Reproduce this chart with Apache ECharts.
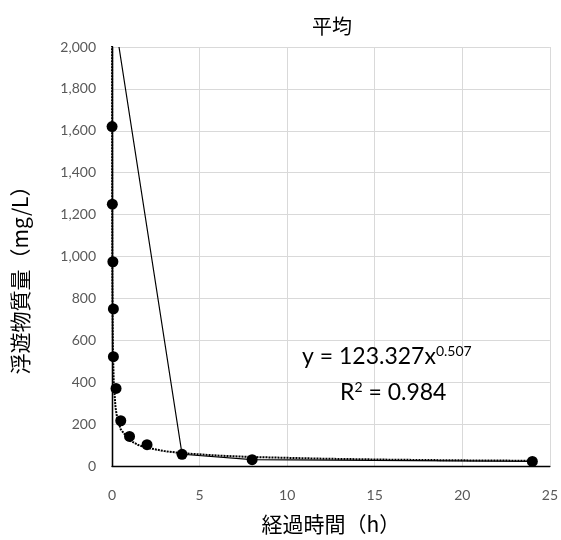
<!DOCTYPE html>
<html><head><meta charset="utf-8">
<script src="https://cdn.jsdelivr.net/npm/echarts@6/dist/echarts.min.js"></script>
<style>html,body{margin:0;padding:0;background:#fff}#c{width:561px;height:540px}</style>
</head><body><div id="c"></div>
<script>
// measured points (elapsed hours, mg/L)
const timeH = [0.004, 0.02, 0.05, 0.08, 0.08, 0.23, 0.5, 1, 2, 4, 8, 24];
const ssValues = [1620, 1250, 975, 750, 522, 370, 216, 141, 102, 56, 30, 22];
// solid connecting line (as drawn)
const lineX = [0.4, 4, 8, 24];
const lineY = [2000, 56, 30, 22];
// power trendline
const trendX = [0.0038, 0.005, 0.01, 0.02, 0.05, 0.1, 0.2, 0.3, 0.5, 1, 1.5, 2, 3, 4, 6, 8, 12, 16, 20, 24];
const trendY = [2080, 1809, 1274, 896, 563, 396, 279, 227, 175, 123, 100, 87, 71, 61, 50, 43, 35, 30, 27, 25];
const xTicks = [0, 5, 10, 15, 20, 25];
const yTicks = [0, 200, 400, 600, 800, 1000, 1200, 1400, 1600, 1800, 2000];
const titleText = '平均';
const xName = '経過時間（h）';
const yName = '浮遊物質量（mg/L）';
const eqMain = 'y = 123.327x';
const eqExp = '0.507';
const r2Text = ' = 0.984';

const zip = (a, b) => a.map((v, i) => [v, b[i]]);
const chart = echarts.init(document.getElementById('c'), null, {renderer: 'canvas'});
const numFont = 'Lato, "Open Sans", sans-serif';
const jpFont = '"Noto Sans CJK JP", sans-serif';
const xMin = xTicks[0], xMax = xTicks[xTicks.length - 1];
const yMin = yTicks[0], yMax = yTicks[yTicks.length - 1];
chart.setOption({
  animation: false,
  backgroundColor: '#fff',
  title: {text: titleText, left: 307, top: 11,
    textStyle: {fontFamily: jpFont, fontSize: 20, fontWeight: 'normal', color: '#000'}},
  grid: {left: 112, right: 9, top: 47, bottom: 73, show: false},
  xAxis: [{type: 'value', min: xMin, max: xMax, interval: 5,
    axisLine: {show: true, lineStyle: {color: '#bfbfbf', width: 1}},
    axisTick: {show: false},
    splitLine: {show: true, lineStyle: {color: '#d9d9d9', width: 1}},
    axisLabel: {color: '#595959', fontSize: 14, fontFamily: numFont, margin: 22},
    name: xName, nameLocation: 'middle', nameGap: 48,
    nameTextStyle: {fontFamily: jpFont, fontSize: 21, color: '#000'}},
    {type: 'value', min: xMin, max: xMax, interval: 5, position: 'top',
    axisLine: {show: true, lineStyle: {color: '#000', width: 1.3}},
    axisTick: {show: false}, axisLabel: {show: false}, splitLine: {show: false}}],
  yAxis: [{type: 'value', min: yMin, max: yMax, interval: 200,
    axisLine: {show: true, lineStyle: {color: '#000', width: 1.3}}, axisTick: {show: false},
    splitLine: {show: true, lineStyle: {color: '#d9d9d9', width: 1}},
    axisLabel: {color: '#595959', fontSize: 14, fontFamily: numFont, margin: 16,
      formatter: v => v.toLocaleString('en-US')}},
    {type: 'value', min: yMin, max: yMax, interval: 200, position: 'right',
    axisLine: {show: true, lineStyle: {color: '#000', width: 1.3}},
    axisTick: {show: false}, axisLabel: {show: false}, splitLine: {show: false}}],
  series: [
    {type: 'line', data: zip(trendX, trendY), showSymbol: false, symbol: 'none', clip: true,
      lineStyle: {color: '#000', width: 2, type: [2, 1]}, z: 3},
    {type: 'line', data: zip(lineX, lineY), showSymbol: false, symbol: 'none', clip: true,
      lineStyle: {color: '#000', width: 1.2}, z: 4},
    {type: 'scatter', data: zip(timeH, ssValues), symbol: 'circle', symbolSize: 11,
      itemStyle: {color: '#000', opacity: 1}, z: 5}
  ],
  graphic: [
    {type: 'text', x: 20, y: 275, rotation: Math.PI / 2, z: 10, style: {
      text: yName, fontFamily: jpFont, fontSize: 21, fill: '#000',
      textAlign: 'center', textVerticalAlign: 'middle'}},
    {type: 'text', left: 302, top: 344, z: 10, style: {
      text: '{a|' + eqMain + '}{s|' + eqExp + '}', rich: {
        a: {fontFamily: numFont, fontSize: 23, fill: '#000', lineHeight: 28},
        s: {fontFamily: numFont, fontSize: 14, fill: '#000', lineHeight: 28, padding: [0, 0, 12, 0]}
      }}},
    {type: 'text', left: 340, top: 380, z: 10, style: {
      text: '{a|R}{s|2}{a|' + r2Text + '}', rich: {
        a: {fontFamily: numFont, fontSize: 23, fill: '#000', lineHeight: 28},
        s: {fontFamily: numFont, fontSize: 14, fill: '#000', lineHeight: 28, padding: [0, 0, 12, 0]}
      }}}
  ]
});
</script></body></html>
